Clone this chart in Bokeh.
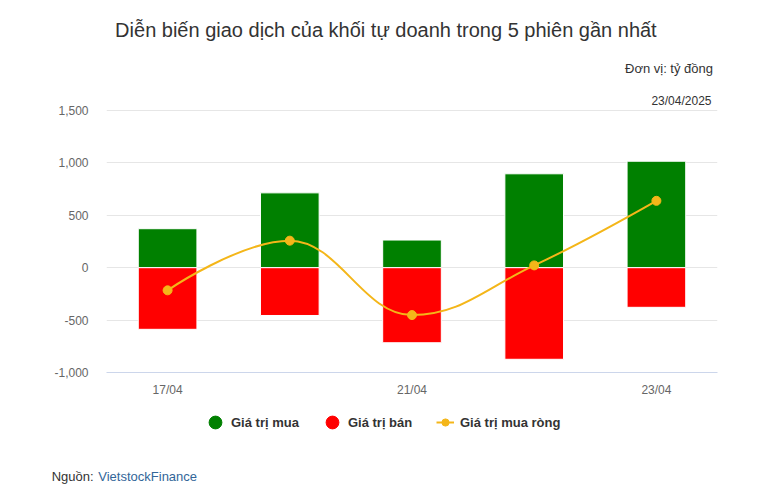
import numpy as np
from bokeh.plotting import figure
from bokeh.layouts import column
from bokeh.models import (Range1d, FixedTicker, Label, Legend, LegendItem,
                          ColumnDataSource, NumeralTickFormatter)
from bokeh.embed import file_html
from bokeh.resources import INLINE

# ---- data ----
dates = ["17/04", "18/04", "21/04", "22/04", "23/04"]
buy_values = [372, 714, 264, 896, 1016]
sell_values = [-588, -456, -716, -874, -378]
net_values = [-216, 258, -452, 22, 638]
y_ticks = [-1000, -500, 0, 500, 1000, 1500]
shown_dates = ["17/04", "21/04", "23/04"]

title_text = "Diễn biến giao dịch của khối tự doanh trong 5 phiên gần nhất"
unit_text = "Đơn vị: tỷ đồng"
date_text = "23/04/2025"
source_label = "Nguồn:"
source_name = "VietstockFinance"
series_names = ["Giá trị mua", "Giá trị bán", "Giá trị mua ròng"]

GREEN = "#008000"
RED = "#ff0000"
ORANGE = "#f4b619"
FONT = "Liberation Sans"

# ---- layout geometry (pixels) ----
W = 751
LEFT, RIGHT = 106, 34
PLOT_W = W - LEFT - RIGHT          # 611
PLOT_TOP, PLOT_BOTTOM = 110, 372   # page y of 1500 and -1000
FRAME_H = PLOT_BOTTOM               # frame runs from page top to -1000 line
BOTTOM_BORDER = 34
MAIN_H = FRAME_H + BOTTOM_BORDER
FOOT_H = 86

y_lo, y_hi = y_ticks[0], y_ticks[-1]
units_per_px = (y_hi - y_lo) / (PLOT_BOTTOM - PLOT_TOP)
y_top = y_lo + FRAME_H * units_per_px
n = len(dates)
px_per_x = PLOT_W / n


def dx(page_x):
    return -0.5 + (page_x - LEFT) / px_per_x


def dy(page_y):
    return y_hi + (PLOT_TOP - page_y) * units_per_px


xs = list(range(n))

p = figure(frame_width=PLOT_W, frame_height=FRAME_H, output_backend="svg",
           toolbar_location=None,
           x_range=Range1d(-0.5, n - 0.5), y_range=Range1d(y_lo, y_top),
           min_border_left=LEFT, min_border_right=RIGHT, min_border_top=0,
           min_border_bottom=BOTTOM_BORDER)
p.outline_line_color = None
p.background_fill_color = "white"

# grid
p.xgrid.grid_line_color = None
p.ygrid.grid_line_color = "#e6e6e6"
p.ygrid.ticker = FixedTicker(ticks=y_ticks)

# axes
p.yaxis.ticker = FixedTicker(ticks=y_ticks)
p.yaxis.formatter = NumeralTickFormatter(format="0,0")
p.yaxis.axis_line_color = None
p.yaxis.major_tick_line_color = None
p.yaxis.minor_tick_line_color = None
p.yaxis.major_tick_out = 0
p.yaxis.minor_tick_out = 0
p.yaxis.major_label_standoff = 18
p.yaxis.major_label_text_font = FONT
p.yaxis.major_label_text_font_size = "12px"
p.yaxis.major_label_text_color = "#666666"

tick_pos = [dates.index(d) for d in shown_dates]
p.xaxis.ticker = FixedTicker(ticks=tick_pos)
p.xaxis.major_label_overrides = {i: dates[i] for i in tick_pos}
p.xaxis.axis_line_color = "#ccd6eb"
p.xaxis.major_tick_line_color = None
p.xaxis.minor_tick_line_color = None
p.xaxis.major_tick_out = 0
p.xaxis.minor_tick_out = 0
p.xaxis.major_label_standoff = 10
p.xaxis.major_label_text_font = FONT
p.xaxis.major_label_text_font_size = "12px"
p.xaxis.major_label_text_color = "#666666"

# bars
src = ColumnDataSource(dict(x=xs, buy=buy_values, sell=sell_values, net=net_values))
p.vbar(x="x", top="buy", bottom=0, width=0.48, source=src,
       fill_color=GREEN, line_color="white", line_width=1)
p.vbar(x="x", top=0, bottom="sell", width=0.48, source=src,
       fill_color=RED, line_color="white", line_width=1)

# spline (Highcharts-style control points computed from the data)
sm = 1.5
lc = [None] * n
rc = [None] * n
for i in range(1, n - 1):
    px, py = xs[i], net_values[i]
    lx_, ly = xs[i - 1], net_values[i - 1]
    nx, ny = xs[i + 1], net_values[i + 1]
    lcx = (sm * px + lx_) / (sm + 1)
    lcy = (sm * py + ly) / (sm + 1)
    rcx = (sm * px + nx) / (sm + 1)
    rcy = (sm * py + ny) / (sm + 1)
    corr = ((rcy - lcy) * (rcx - px)) / (rcx - lcx) + py - rcy
    lcy += corr
    rcy += corr
    if lcy > ly and lcy > py:
        lcy = max(ly, py); rcy = 2 * py - lcy
    elif lcy < ly and lcy < py:
        lcy = min(ly, py); rcy = 2 * py - lcy
    if rcy > ny and rcy > py:
        rcy = max(ny, py); lcy = 2 * py - rcy
    elif rcy < ny and rcy < py:
        rcy = min(ny, py); lcy = 2 * py - rcy
    lc[i] = (lcx, lcy)
    rc[i] = (rcx, rcy)

bz = dict(x0=[], y0=[], x1=[], y1=[], cx0=[], cy0=[], cx1=[], cy1=[])
for i in range(1, n):
    a = rc[i - 1] if rc[i - 1] else (xs[i - 1], net_values[i - 1])
    b = lc[i] if lc[i] else (xs[i], net_values[i])
    bz["x0"].append(xs[i - 1]); bz["y0"].append(net_values[i - 1])
    bz["x1"].append(xs[i]); bz["y1"].append(net_values[i])
    bz["cx0"].append(a[0]); bz["cy0"].append(a[1])
    bz["cx1"].append(b[0]); bz["cy1"].append(b[1])
p.bezier(x0="x0", y0="y0", x1="x1", y1="y1", cx0="cx0", cy0="cy0",
         cx1="cx1", cy1="cy1", source=ColumnDataSource(bz),
         line_color=ORANGE, line_width=2)
p.scatter(x="x", y="net", source=src, size=9, fill_color=ORANGE, line_color=ORANGE)

# header texts (inside the frame, above the 1,500 grid line)
p.add_layout(Label(x=dx(385.4), y=dy(29.7), text=title_text,
                   text_font=FONT, text_font_size="20px", text_color="#333333",
                   text_align="center", text_baseline="middle"))
p.add_layout(Label(x=dx(712.5), y=dy(67.7), text=unit_text,
                   text_font=FONT, text_font_size="13px", text_color="#333333",
                   text_align="right", text_baseline="middle"))
p.add_layout(Label(x=dx(711), y=dy(100.5), text=date_text,
                   text_font=FONT, text_font_size="12px", text_color="#333333",
                   text_align="right", text_baseline="middle"))

# ---- footer figure: legend and source line ----
f = figure(frame_width=W, frame_height=FOOT_H, output_backend="svg",
           toolbar_location=None, x_range=Range1d(0, W), y_range=Range1d(0, FOOT_H),
           x_axis_type=None, y_axis_type=None, min_border=0,
           min_border_left=0, min_border_right=0, min_border_top=0, min_border_bottom=0)
f.outline_line_color = None
f.xgrid.visible = False
f.ygrid.visible = False

empty = ColumnDataSource(dict(x=[np.nan], y=[np.nan]))
r_buy = f.scatter(x="x", y="y", source=empty, size=13, fill_color=GREEN, line_color=GREEN)
r_sell = f.scatter(x="x", y="y", source=empty, size=13, fill_color=RED, line_color=RED)
r_netl = f.line(x="x", y="y", source=empty, line_color=ORANGE, line_width=2)
r_netm = f.scatter(x="x", y="y", source=empty, size=8, fill_color=ORANGE, line_color=ORANGE)
r_blank = f.scatter(x="x", y="y", source=empty, size=1, fill_alpha=0, line_alpha=0)

foot_top = MAIN_H  # page y of footer top
legend_cy = FOOT_H - (422.3 - foot_top)


def style_legend(lg, color="#333333", weight="bold"):
    lg.label_text_font = FONT
    lg.label_text_font_size = "13px"
    lg.label_text_font_style = weight
    lg.label_text_color = color
    lg.border_line_color = None
    lg.background_fill_alpha = 0
    lg.margin = 0
    lg.padding = 0


# circles (legend markers scale with glyph box: 0.4 * 32 = 12.8 px)
legend_a = Legend(items=[
    LegendItem(label=series_names[0], renderers=[r_buy]),
    LegendItem(label=series_names[1], renderers=[r_sell]),
], orientation="horizontal", location=(199, legend_cy - 16))
style_legend(legend_a)
legend_a.glyph_width = 32
legend_a.glyph_height = 32
legend_a.label_standoff = 0
legend_a.spacing = 17
f.add_layout(legend_a)

legend_b = Legend(items=[
    LegendItem(label=series_names[2], renderers=[r_netl, r_netm]),
], orientation="horizontal", location=(436, legend_cy - 10))
style_legend(legend_b)
legend_b.glyph_width = 18
legend_b.glyph_height = 20
legend_b.label_standoff = 6
f.add_layout(legend_b)

# source line, drawn as glyph-less legend entries so it sits at fixed pixels
src_cy = FOOT_H - (476.8 - foot_top)
legend_src = Legend(items=[LegendItem(label=source_label, renderers=[r_blank])],
                    orientation="horizontal", location=(51.7, src_cy - 8))
style_legend(legend_src, "#333333", "normal")
legend_src.glyph_width = 0
legend_src.glyph_height = 16
legend_src.label_standoff = 0
f.add_layout(legend_src)

legend_link = Legend(items=[LegendItem(label=source_name, renderers=[r_blank])],
                     orientation="horizontal", location=(98.3, src_cy - 8))
style_legend(legend_link, "#336699", "normal")
legend_link.glyph_width = 0
legend_link.glyph_height = 16
legend_link.label_standoff = 0
f.add_layout(legend_link)

layout = column(p, f, spacing=0)
open("out.html", "w").write(file_html(layout, INLINE))
